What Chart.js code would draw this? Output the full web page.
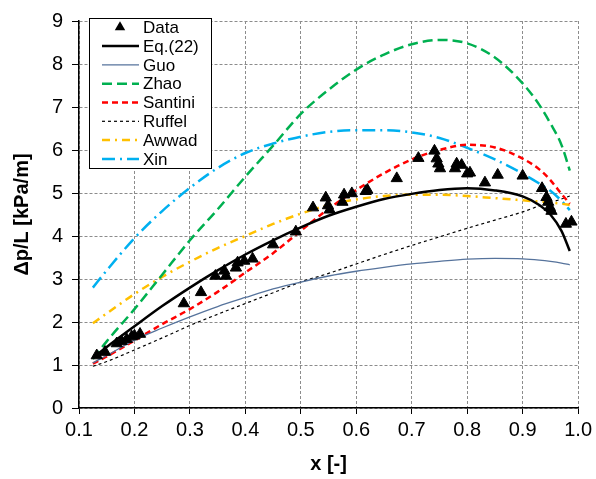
<!DOCTYPE html>
<html>
<head>
<meta charset="utf-8">
<script src="https://cdn.jsdelivr.net/npm/chart.js@4"></script>
<style>
  html, body { margin: 0; padding: 0; background: #fff; }
  #wrap { width: 596px; height: 479px; }
</style>
</head>
<body>
<div id="wrap"><canvas id="chart" width="596" height="479"></canvas></div>
<script>
const dataX = [0.132, 0.147, 0.168, 0.177, 0.186, 0.195, 0.2, 0.21, 0.289, 0.32, 0.346, 0.362, 0.365, 0.383, 0.386, 0.398, 0.413, 0.45, 0.491, 0.522, 0.545, 0.549, 0.552, 0.575, 0.578, 0.592, 0.617, 0.62, 0.673, 0.712, 0.741, 0.745, 0.748, 0.751, 0.778, 0.781, 0.79, 0.8, 0.805, 0.832, 0.855, 0.9, 0.935, 0.943, 0.946, 0.949, 0.952, 0.978, 0.988];
const dataY = [1.22, 1.3, 1.5, 1.55, 1.6, 1.66, 1.68, 1.72, 2.43, 2.69, 3.07, 3.19, 3.07, 3.26, 3.38, 3.42, 3.47, 3.8, 4.1, 4.66, 4.89, 4.71, 4.61, 4.79, 4.96, 4.99, 5.04, 5.07, 5.34, 5.81, 5.98, 5.8, 5.68, 5.57, 5.57, 5.68, 5.65, 5.45, 5.47, 5.24, 5.42, 5.4, 5.11, 4.9, 4.79, 4.67, 4.58, 4.28, 4.33];

// model curves, all sampled at the same x
const curveX   = [0.125, 0.15, 0.2, 0.25, 0.3, 0.35, 0.4, 0.45, 0.5, 0.55, 0.6, 0.65, 0.7, 0.75, 0.8, 0.85, 0.9, 0.93, 0.95, 0.97, 0.985];
const eqY      = [1.17, 1.42, 1.9, 2.37, 2.8, 3.2, 3.57, 3.9, 4.2, 4.47, 4.68, 4.86, 4.98, 5.07, 5.11, 5.06, 4.92, 4.72, 4.5, 4.12, 3.65];
const guoY     = [1.05, 1.22, 1.58, 1.86, 2.12, 2.36, 2.57, 2.77, 2.93, 3.07, 3.18, 3.27, 3.35, 3.41, 3.46, 3.48, 3.47, 3.44, 3.41, 3.37, 3.33];
const zhaoY    = [1.14, 1.55, 2.3, 3.1, 3.9, 4.62, 5.38, 6.1, 6.84, 7.4, 7.87, 8.22, 8.46, 8.56, 8.48, 8.15, 7.55, 7.05, 6.62, 6.12, 5.52];
const santiniY = [1.03, 1.2, 1.57, 1.95, 2.3, 2.7, 3.15, 3.6, 4.12, 4.63, 5.07, 5.46, 5.78, 6.0, 6.12, 6.06, 5.8, 5.55, 5.3, 4.98, 4.75];
const ruffelY  = [0.97, 1.08, 1.35, 1.63, 1.92, 2.18, 2.43, 2.68, 2.93, 3.13, 3.35, 3.57, 3.78, 3.98, 4.18, 4.37, 4.56, 4.7, 4.78, 4.86, 4.93];
const awwadY   = [1.97, 2.2, 2.65, 3.05, 3.4, 3.72, 4.0, 4.28, 4.52, 4.72, 4.85, 4.93, 4.96, 4.96, 4.93, 4.88, 4.83, 4.8, 4.78, 4.75, 4.72];
const xinY     = [2.8, 3.2, 3.95, 4.58, 5.12, 5.58, 5.93, 6.15, 6.31, 6.42, 6.46, 6.46, 6.41, 6.28, 6.05, 5.78, 5.45, 5.22, 5.05, 4.82, 4.6];

const xTicks = [0.1, 0.2, 0.3, 0.4, 0.5, 0.6, 0.7, 0.8, 0.9, 1.0];
const yTicks = [0, 1, 2, 3, 4, 5, 6, 7, 8, 9];

const FONT = 'Liberation Sans, Arial, sans-serif';

function pts(xs, ys) {
    return xs.map((x, i) => ({ x: x, y: ys[i] }));
}

function curve(label, ys, color, width, dash) {
    return {
        label: label,
        data: pts(curveX, ys),
        showLine: true,
        borderColor: color,
        backgroundColor: color,
        borderWidth: width,
        borderDash: dash,
        pointRadius: 0,
        cubicInterpolationMode: 'monotone',
        fill: false
    };
}

const datasets = [
    {
        label: 'Data',
        data: pts(dataX, dataY),
        pointStyle: 'triangle',
        pointRadius: 6.5,
        pointBackgroundColor: '#000',
        pointBorderColor: '#000',
        pointBorderWidth: 1,
        showLine: false
    },
    curve('Eq.(22)', eqY, '#000000', 2.5, []),
    curve('Guo', guoY, '#56739c', 1.3, []),
    curve('Zhao', zhaoY, '#00b050', 2.5, [10, 5]),
    curve('Santini', santiniY, '#ff0000', 2.5, [6, 4]),
    curve('Ruffel', ruffelY, '#000000', 1.2, [3, 3]),
    curve('Awwad', awwadY, '#ffc000', 2.5, [8, 5, 2, 5]),
    curve('Xin', xinY, '#00b0f0', 2.5, [13, 5, 2, 5])
];

// legend box drawn inside the plot, top-left
const insideLegend = {
    id: 'insideLegend',
    afterDraw(chart) {
        const ctx = chart.ctx;
        const left = 89, top = 18, w = 122, h = 150;
        const rowH = 18.8, firstY = 27.3;
        ctx.save();
        ctx.fillStyle = '#fff';
        ctx.fillRect(left, top, w, h);
        ctx.strokeStyle = '#000';
        ctx.lineWidth = 1;
        ctx.strokeRect(left + 0.5, top + 0.5, w, h);
        ctx.font = '17px ' + FONT;
        ctx.textBaseline = 'middle';
        chart.data.datasets.forEach((ds, i) => {
            const y = firstY + i * rowH;
            if (i === 0) {
                const cx = 120, r = 6;
                ctx.fillStyle = '#000';
                ctx.beginPath();
                ctx.moveTo(cx, y - r);
                ctx.lineTo(cx + r * 0.87, y + r * 0.5);
                ctx.lineTo(cx - r * 0.87, y + r * 0.5);
                ctx.closePath();
                ctx.fill();
            } else {
                ctx.strokeStyle = ds.borderColor;
                ctx.lineWidth = ds.borderWidth;
                ctx.setLineDash(ds.borderDash || []);
                ctx.beginPath();
                ctx.moveTo(102, y);
                ctx.lineTo(139, y);
                ctx.stroke();
                ctx.setLineDash([]);
            }
            ctx.fillStyle = '#000';
            ctx.fillText(ds.label, 143, y + 1);
        });
        ctx.restore();
    }
};

new Chart(document.getElementById('chart'), {
    type: 'scatter',
    data: { datasets: datasets },
    options: {
        responsive: false,
        animation: false,
        layout: { padding: { top: 14, right: 16, left: 0, bottom: 0 } },
        plugins: {
            legend: { display: false },
            tooltip: { enabled: false }
        },
        scales: {
            x: {
                type: 'linear',
                min: 0.1,
                max: 1.0,
                afterFit(scale) { scale.height = 71; },
                afterBuildTicks(scale) { scale.ticks = xTicks.map(v => ({ value: v })); },
                ticks: {
                    color: '#000',
                    font: { family: FONT, size: 20 },
                    padding: 4,
                    maxRotation: 0,
                    callback: v => Number(v).toFixed(1)
                },
                grid: { color: '#8c8c8c', lineWidth: 1, tickLength: 6, tickColor: '#000', tickBorderDash: [] },
                border: { color: '#000', width: 1.5, dash: [3, 2] },
                title: {
                    display: true,
                    text: 'x [-]',
                    color: '#000',
                    font: { family: FONT, size: 20, weight: 'bold' },
                    padding: { bottom: 3 }
                }
            },
            y: {
                type: 'linear',
                min: 0,
                max: 9,
                afterFit(scale) { scale.width = 79; },
                afterBuildTicks(scale) { scale.ticks = yTicks.map(v => ({ value: v })); },
                ticks: {
                    color: '#000',
                    font: { family: FONT, size: 20 },
                    padding: 9,
                    callback: v => String(v)
                },
                grid: { color: '#8c8c8c', lineWidth: 1, tickLength: 7, tickColor: '#000', tickBorderDash: [] },
                border: { color: '#000', width: 1.5, dash: [3, 2] },
                title: {
                    display: true,
                    text: 'Δp/L [kPa/m]',
                    color: '#000',
                    font: { family: FONT, size: 20, weight: 'bold' },
                    padding: { top: 10 }
                }
            }
        }
    },
    plugins: [insideLegend]
});
</script>
</body>
</html>
